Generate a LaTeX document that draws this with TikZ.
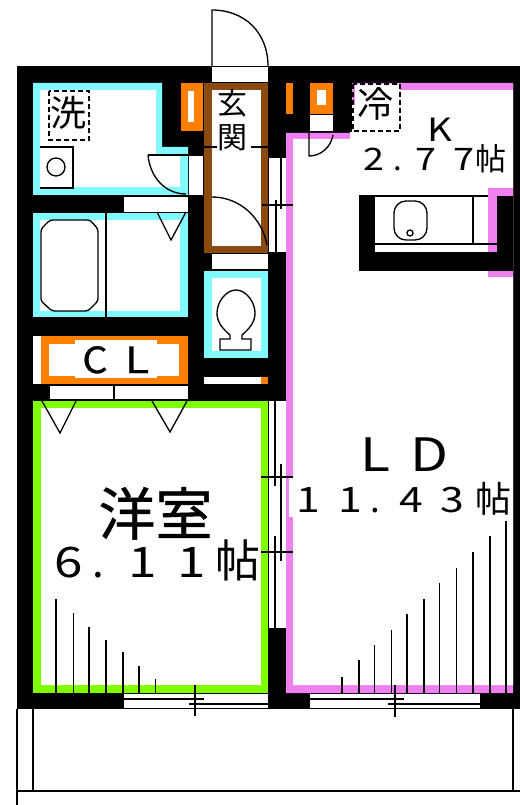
\documentclass[tikz,border=0pt]{standalone}
\usepackage{fontspec}
\usepackage{graphicx}
\setmainfont{Noto Sans CJK JP}
\definecolor{cy}{HTML}{80FAFF}
\definecolor{mg}{HTML}{F080F0}
\definecolor{gr}{HTML}{80FF00}
\definecolor{og}{HTML}{FF8000}
\definecolor{br}{HTML}{8B4A10}
\newdimen\pxu \pxu=0.75pt
\newcommand\fsz[1]{\fontsize{#1\pxu}{#1\pxu}\selectfont}
\newcommand\gl[2]{\rlap{\hspace*{#1\pxu}\makebox[0pt]{#2}}}
\newcommand\wbox[2]{\makebox[#1\pxu][l]{#2}}
\newcommand\wdg[1]{\scalebox{1.22}[1]{#1}}
\newcommand\hvy{\addfontfeature{FakeBold=0.7}}
\tikzset{
  wall/.style={fill=black,draw=none},
  hole/.style={fill=white,draw=none},
  thin line/.style={draw=black,line width=1pt},
  fine/.style={draw=black,line width=0.7pt},
  dash box/.style={draw=black,line width=0.9pt,dash pattern=on 3.5pt off 2.5pt},
  lbl/.style={anchor=base,inner sep=0pt,outer sep=0pt,text=black}
}
\begin{document}
\begin{tikzpicture}[x=0.75pt,y=-0.75pt]
\useasboundingbox (0,0) rectangle (520,805);
\fill[white] (0,0) rectangle (520,805);
% balcony
\draw[thin line] (17,709) -- (17,805);
\draw[thin line] (33,709) -- (33,791);
\draw[thin line] (513,709) -- (513,791);
\draw[thin line] (17,791) -- (520,791);
% building mass
\fill[wall] (17,66) rectangle (520,709);
% entrance door
\fill[hole] (212,67) rectangle (268,82);
\draw[thin line] (212,66) -- (212,10) .. controls (245,10) and (268,33) .. (268,66);
% wash room
\fill[cy] (33,83) -- (162,83) -- (162,147) -- (188,147) -- (188,195) -- (33,195) -- cycle;
\fill[white] (40,90) -- (156,90) -- (156,155) -- (180,155) -- (180,187) -- (40,187) -- cycle;
\fill[hole] (189,156) rectangle (203,195);
\draw[thin line] (148,155) -- (188,155);
\draw[thin line] (148,155) .. controls (150,177) and (165,194) .. (186,194);
\draw[thin line] (40,147) -- (73,147) -- (73,188) -- (40,188);
\draw[thin line] (56,167) circle (9);
\draw[dash box] (49,91) rectangle (89,140);
\node[lbl] (wash) at (68,127) {\fsz{36}洗};
% closet by entrance
\fill[og] (181,83) rectangle (203,131);
\fill[white] (188,91) rectangle (194,122);
% entrance
\fill[br] (204,83) rectangle (268,253);
\fill[white] (212,90) rectangle (261,246);
\draw[thin line] (204,147) -- (217,147) (251,147) -- (268,147);
\draw[thin line] (212,197) .. controls (240,197) and (262,218) .. (267,245);
\node[lbl] (gen) at (232,115) {\fsz{30}玄};
\node[lbl] (kan) at (232,149) {\fsz{30}関};
\fill[hole] (212,254) rectangle (268,269);
% bath
\fill[hole] (124,197) rectangle (188,212);
\fill[cy] (33,213) rectangle (188,317);
\fill[white] (40,220) rectangle (180,311);
\draw[thin line] (106,213) -- (106,317);
\draw[thin line] (157,212) -- (171,240) -- (186,212);
\draw[thin line,rounded corners=2pt] (50,220) -- (90,220) -- (98,229) -- (98,301) -- (88,311) -- (52,311) -- (41,301) -- (41,229) -- cycle;
% toilet
\fill[cy] (204,271) rectangle (268,358);
\fill[white] (212,278) rectangle (261,351);
\draw[thin line] (220,350) -- (220,339) -- (230,339) -- (230,335) .. controls (222,328) and (217,322) .. (217,313) .. controls (217,302) and (226,290) .. (236,290) .. controls (246,290) and (255,302) .. (255,313) .. controls (255,322) and (250,328) .. (242,335) -- (242,339) -- (251,339) -- (251,350) -- cycle;
\fill[hole] (204,377) rectangle (261,384);
\fill[og] (261,377) rectangle (268,384);
% closet CL
\fill[white] (33,336) rectangle (41,384);
\fill[og] (41,336) rectangle (188,384);
\fill[white] (49,344) rectangle (179,376);
\fill[white] (75,340) rectangle (157,378);
\node[lbl] (cl) at (116,373) {\wbox{64}{\fsz{36}\hvy\gl{11}{\scalebox{1.1}[1]{C}}\gl{53}{\scalebox{1.25}[1]{L}}}};
\fill[hole] (50,386) rectangle (188,399);
\draw[thin line] (114,386) -- (114,399);
% western room
\fill[gr] (33,401) rectangle (268,693);
\fill[white] (41,408) rectangle (261,685);
\draw[thin line] (42,401) -- (60,433) -- (76,401);
\draw[thin line] (152,401) -- (170,432) -- (187,401);
\foreach \x/\t in {56/599,73.5/613,89/627,106/640,123/652,139/666,155.5/679}
  \draw[thin line] (\x,\t) -- (\x,693);
\node[lbl] (yoshitsu) at (156,535) {\wbox{114}{\fsz{57}\hvy\gl{28}{洋}\gl{85}{室}}};
\node[lbl] (yoarea) at (157,577) {\wbox{206}{\fsz{42}\gl{15}{\wdg{6}}\gl{44}{.}\gl{89}{\wdg{1}}\gl{138}{\wdg{1}}\gl{184}{\fsz{45}帖}}};
% south sash, western room
\fill[hole] (124,694) rectangle (268,708);
\draw[thin line] (124,699) -- (204,699) (189,704) -- (268,704) (124,708.5) -- (268,708.5);
\draw[thin line] (195,685) -- (195,716);
% LDK
\fill[mg] (286,133) -- (352,133) -- (352,83) -- (513,83) -- (513,693) -- (286,693) -- cycle;
\fill[white] (293,139) -- (350,139) -- (350,132) -- (352,132) -- (352,84) -- (513,84) -- (513,685) -- (293,685) -- cycle;
\fill[mg] (400,83) rectangle (513,90);
\fill[mg] (352,84) rectangle (355,105);
\fill[white] (289,477) rectangle (512,517);
% closets by kitchen
\fill[og] (286,83) rectangle (293,114);
\fill[og] (310,83) rectangle (333,114);
\fill[white] (317,90) rectangle (326,105);
\fill[hole] (310,115) rectangle (333,131);
\draw[thin line] (309,131) -- (309,156) .. controls (321,156) and (331,147) .. (333,135);
\draw[dash box] (353,84) rectangle (400,131);
\node[lbl] (rei) at (375,118) {\fsz{36}冷};
\node[lbl] (k) at (440,142) {\fsz{32}\scalebox{1.2}[1]{K}};
\node[lbl] (karea) at (433,171) {\wbox{146}{\fsz{31}\gl{14}{\wdg{2}}\gl{38}{.}\gl{66}{\wdg{7}}\gl{104}{\wdg{7}}\gl{131}{帖}}};
% kitchen counter
\fill[wall] (359,196) rectangle (513,271);
\fill[white] (375,197) rectangle (488,252);
\fill[mg] (488,188) rectangle (497,252);
\fill[mg] (488,188) rectangle (513,196);
\fill[mg] (488,271) rectangle (513,277);
\draw[thin line] (359,196) -- (488,196);
\draw[thin line] (375,244) -- (497,244);
\draw[thin line] (473,197) -- (473,244);
\draw[thin line,rounded corners=9pt] (394,201) rectangle (427,240);
\draw[thin line] (410,233) circle (3);
% sliding doors to the corridor
\fill[hole] (269,157) rectangle (286,252);
\draw[fine] (269,157) -- (286,157);
\draw[thin line] (276,200) -- (276,252) (281,157) -- (281,209);
\draw[thin line] (262,205) -- (293,205);
\fill[hole] (269,401) rectangle (286,628);
\draw[thin line] (275,401) -- (275,486) (281,464) -- (281,561) (275,536) -- (275,628);
\draw[thin line] (261,477) -- (293,477) (261,552) -- (293,552);
% LD labels and floor marks
\node[lbl] (ld) at (405,471) {\wbox{96}{\fsz{46}\gl{18}{\scalebox{1.2}[1]{L}}\gl{72}{\scalebox{1.2}[1]{D}}}};
\node[lbl] (ldarea) at (405,512) {\wbox{210}{\fsz{35}\gl{8}{\wdg{1}}\gl{50}{\wdg{1}}\gl{75}{.}\gl{111}{\wdg{4}}\gl{152}{\wdg{3}}\gl{193}{\fsz{36}帖}}};
\foreach \x/\t in {342/677,359/660,374.5/645,391.5/630,407/614,424/599,439.5/583,456.5/568,473/552,490/536,506/520.5}
  \draw[thin line] (\x,\t) -- (\x,693);
% south sash, LD
\fill[hole] (310,694) rectangle (480,708);
\draw[thin line] (310,699) -- (404,699) (388,704) -- (480,704) (310,708.5) -- (480,708.5);
\draw[thin line] (395,685) -- (395,717);
\end{tikzpicture}
\end{document}
